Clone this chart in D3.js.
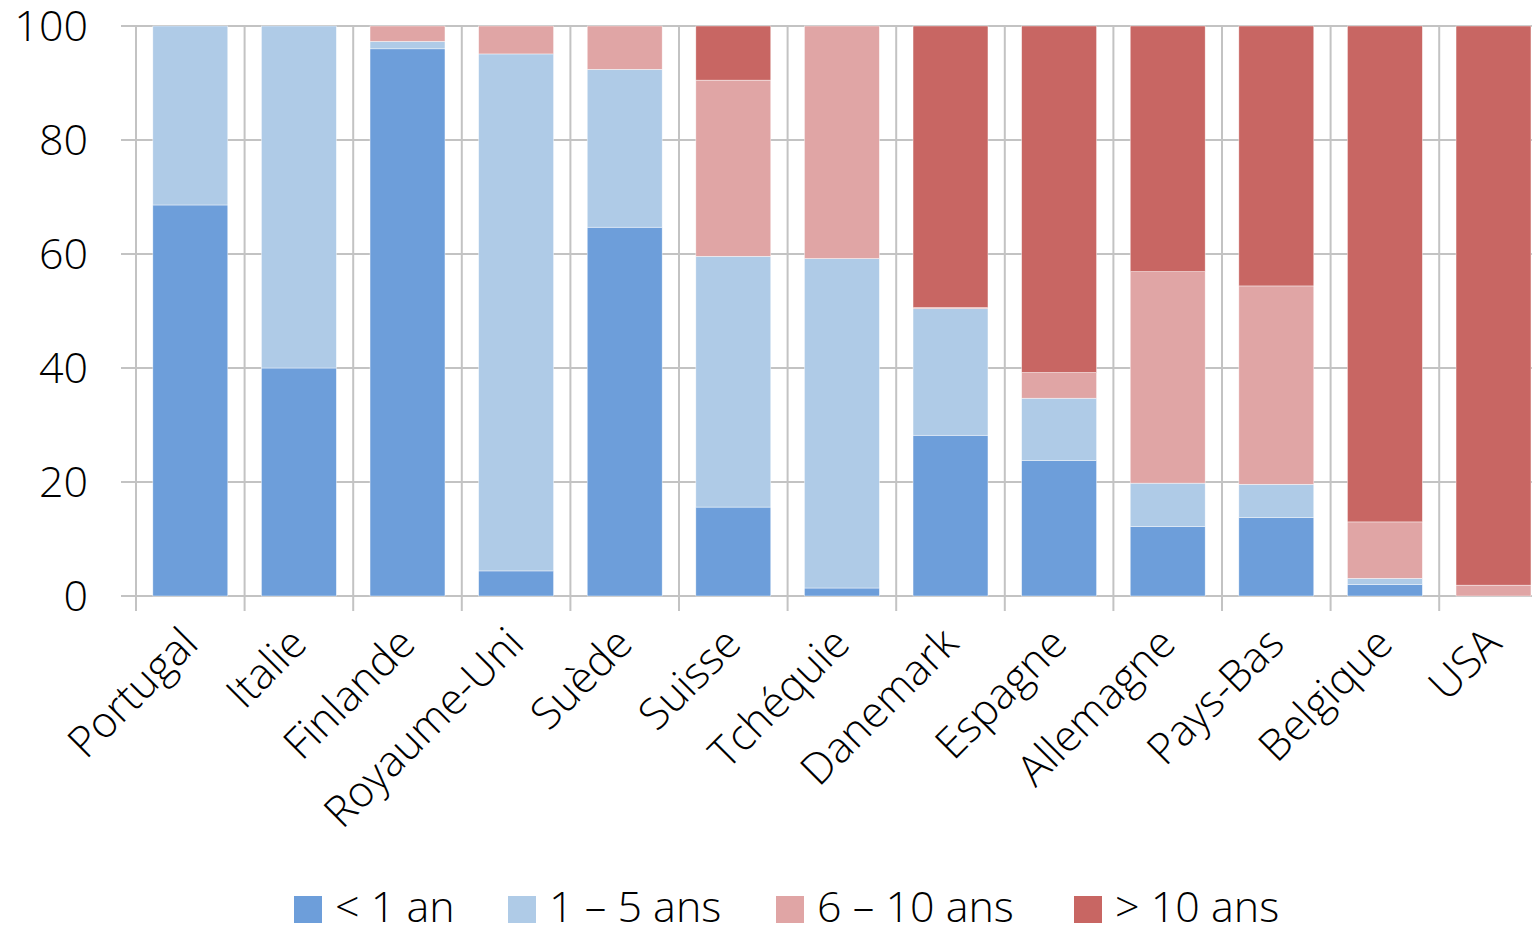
<!DOCTYPE html>
<html><head><meta charset="utf-8">
<script src="https://cdn.jsdelivr.net/npm/d3@7"></script>
<style>
html,body{margin:0;padding:0;background:#fff;}
svg text{font-family:"Open Sans",sans-serif;font-weight:300;fill:#000;}
</style></head>
<body>
<svg id="c" width="1532" height="927"></svg>
<script>
const categories = ["Portugal","Italie","Finlande","Royaume-Uni","Suède","Suisse","Tchéquie","Danemark","Espagne","Allemagne","Pays-Bas","Belgique","USA"];
const seriesNames = ["< 1 an","1 – 5 ans","6 – 10 ans","> 10 ans"];
const lessThan1 = [68.6, 40.0, 96.0, 4.4, 64.7, 15.6, 1.4, 28.2, 23.8, 12.2, 13.8, 2.0, 0];
const oneToFive = [31.4, 60.0, 1.3, 90.7, 27.7, 44.0, 57.8, 22.2, 10.9, 7.6, 5.8, 1.1, 0];
const sixToTen = [0, 0, 2.7, 4.9, 7.6, 30.9, 40.8, 0.2, 4.5, 37.1, 34.8, 9.9, 1.9];
const moreThan10 = [0, 0, 0, 0, 0, 9.5, 0, 49.4, 60.8, 43.1, 45.6, 87.0, 98.1];
const yTicks = [0, 20, 40, 60, 80, 100];
const colors = ["#6d9eda", "#afcbe7", "#e0a5a5", "#c86663"];

const svg = d3.select("#c");
const y = d3.scaleLinear().domain([0, 100]).range([596, 26]);
const x = d3.scaleBand().domain(categories).range([136, 136 + 108.6 * categories.length])
  .paddingInner(0.31).paddingOuter(0.155);

// horizontal gridlines
svg.append("g").selectAll("line").data(yTicks).join("line")
  .attr("x1", 121).attr("x2", 1532)
  .attr("y1", d => y(d)).attr("y2", d => y(d))
  .attr("stroke", "#c3c3c3").attr("stroke-width", 2);

// vertical gridlines at category boundaries
const bounds = d3.range(categories.length + 1).map(i => x.range()[0] + i * x.step());
svg.append("g").selectAll("line").data(bounds).join("line")
  .attr("x1", d => d).attr("x2", d => d)
  .attr("y1", y(100)).attr("y2", 611)
  .attr("stroke", "#c3c3c3").attr("stroke-width", 2);

// y labels
svg.append("g").selectAll("text").data(yTicks).join("text")
  .attr("x", 88).attr("y", d => y(d)).attr("dy", "0.36em")
  .attr("text-anchor", "end").attr("font-size", 43).text(d => d);

// stacked bars
const rows = categories.map((c, i) => ({cat: c, s0: lessThan1[i], s1: oneToFive[i], s2: sixToTen[i], s3: moreThan10[i]}));
const stack = d3.stack().keys(["s0","s1","s2","s3"])(rows);
svg.append("g").selectAll("g").data(stack).join("g")
  .attr("fill", (d, i) => colors[i])
  .selectAll("rect").data(d => d.filter(p => p[1] - p[0] > 0)).join("rect")
  .attr("x", d => x(d.data.cat)).attr("width", x.bandwidth())
  .attr("y", d => y(d[1])).attr("height", d => y(d[0]) - y(d[1]))
  .attr("stroke", "#fff").attr("stroke-width", 0.6).attr("stroke-opacity", 0.7);

// x labels
svg.append("g").selectAll("text").data(categories).join("text")
  .attr("transform", d => `translate(${x(d) + x.bandwidth() / 2 + 10},${646}) rotate(-45)`)
  .attr("text-anchor", "end").attr("font-size", 43).text(d => d);

// legend
const legX = [294, 508, 776, 1074];
const lg = svg.append("g").selectAll("g").data(seriesNames).join("g")
  .attr("transform", (d, i) => `translate(${legX[i]},0)`);
lg.append("rect").attr("x", 0).attr("y", 896).attr("width", 28).attr("height", 27)
  .attr("fill", (d, i) => colors[i]);
lg.append("text").attr("x", 41).attr("y", 922).attr("font-size", 43).text(d => d);
</script>
</body></html>
